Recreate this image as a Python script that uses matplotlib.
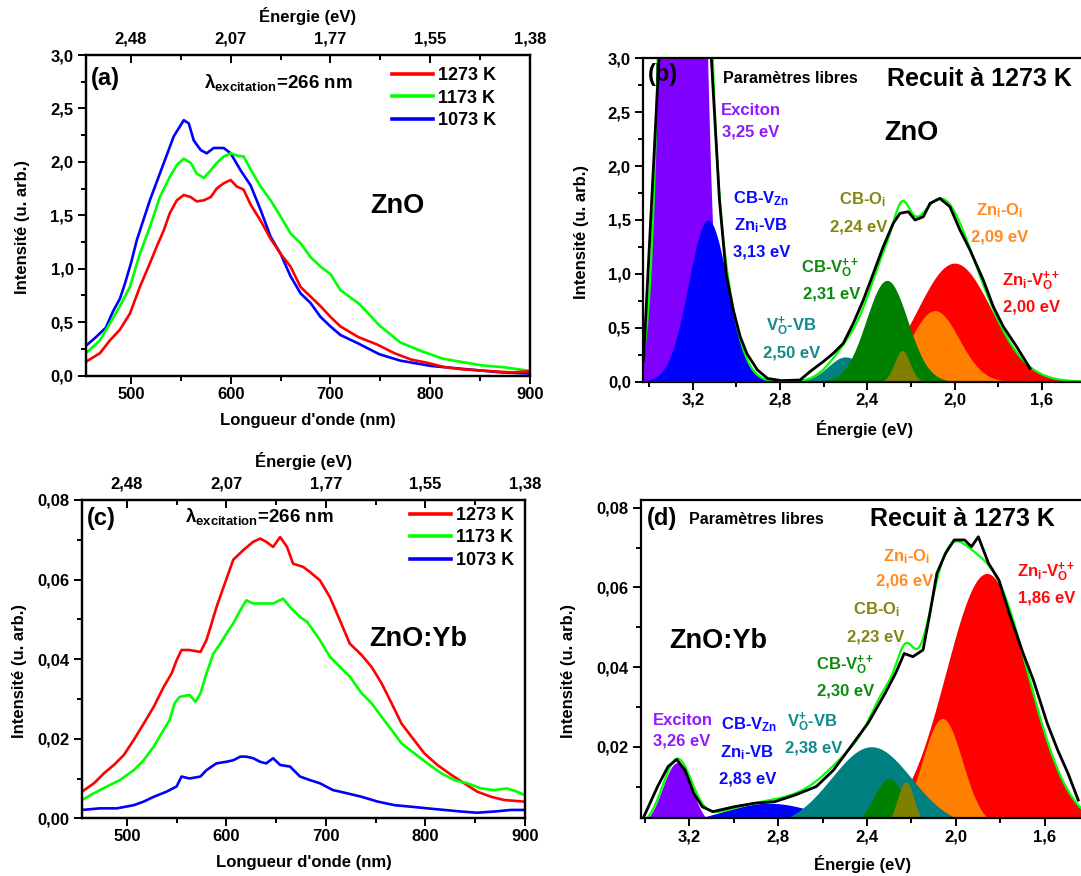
import numpy as np
import matplotlib.pyplot as plt
from matplotlib.ticker import MultipleLocator, FuncFormatter

plt.rcParams['font.family'] = ['Liberation Sans', 'DejaVu Sans']
plt.rcParams['font.weight'] = 'bold'
plt.rcParams['axes.labelweight'] = 'bold'
plt.rcParams['mathtext.fontset'] = 'custom'
plt.rcParams['mathtext.rm'] = 'Liberation Sans:bold'
plt.rcParams['mathtext.it'] = 'Liberation Sans:bold'
plt.rcParams['mathtext.bf'] = 'Liberation Sans:bold'

# ---------------- données (a) : ZnO, spectres PL ----------------
wl_a_1273 = [455, 469, 479, 489, 499, 509, 519, 526, 533, 539, 546, 553, 560, 566, 573, 580, 586, 593,
             600, 606, 613, 620, 630, 640, 650, 660, 670, 680, 690, 700, 710, 728, 747, 764, 781, 797,
             814, 831, 847, 864, 881, 899]
int_a_1273 = [0.13, 0.21, 0.33, 0.43, 0.58, 0.83, 1.05, 1.21, 1.36, 1.52, 1.64, 1.69, 1.67, 1.63, 1.64,
              1.67, 1.75, 1.80, 1.83, 1.77, 1.74, 1.60, 1.45, 1.28, 1.14, 1.02, 0.83, 0.74, 0.65, 0.55,
              0.46, 0.36, 0.29, 0.21, 0.15, 0.12, 0.08, 0.06, 0.05, 0.04, 0.03, 0.04]
wl_a_1173 = [455, 469, 479, 489, 499, 509, 519, 529, 539, 546, 553, 560, 566, 573, 580, 586, 593, 600,
             606, 613, 620, 630, 640, 650, 660, 670, 680, 690, 700, 710, 729, 749, 770, 791, 812, 833,
             853, 874, 898]
int_a_1173 = [0.21, 0.33, 0.49, 0.65, 0.83, 1.14, 1.39, 1.67, 1.86, 1.97, 2.03, 1.99, 1.89, 1.85, 1.92,
              1.99, 2.05, 2.08, 2.06, 2.05, 1.93, 1.77, 1.64, 1.49, 1.33, 1.24, 1.11, 1.02, 0.95, 0.80,
              0.67, 0.47, 0.31, 0.23, 0.16, 0.125, 0.094, 0.078, 0.047]
wl_a_1073 = [455, 465, 475, 482, 489, 494, 500, 506, 519, 533, 543, 553, 558, 563, 570, 576, 583, 593,
             600, 610, 620, 630, 640, 650, 660, 670, 680, 690, 700, 710, 728, 749, 770, 801, 836, 871, 898]
int_a_1073 = [0.28, 0.36, 0.45, 0.60, 0.72, 0.86, 1.05, 1.27, 1.64, 1.99, 2.24, 2.39, 2.36, 2.20, 2.11,
              2.08, 2.13, 2.13, 2.08, 1.92, 1.78, 1.55, 1.30, 1.14, 0.93, 0.77, 0.68, 0.55, 0.46, 0.38,
              0.30, 0.20, 0.14, 0.09, 0.06, 0.03, 0.02]

# ---------------- données (c) : ZnO:Yb, spectres PL ----------------
wl_c_1273 = [455, 467, 477, 487, 497, 507, 517, 527, 537, 545, 550, 555, 563, 574, 580, 584, 590, 597,
             607, 617, 627, 634, 640, 647, 654, 661, 667, 677, 684, 694, 704, 714, 724, 736, 746, 756,
             766, 776, 786, 799, 812, 826, 839, 852, 866, 879, 899]
int_c_1273 = [0.0067, 0.0088, 0.0113, 0.0134, 0.0159, 0.0197, 0.0238, 0.028, 0.033, 0.0364, 0.0397,
              0.0423, 0.0423, 0.0418, 0.0448, 0.048, 0.053, 0.058, 0.065, 0.0674, 0.0695, 0.0703,
              0.0695, 0.0682, 0.0707, 0.0682, 0.064, 0.0632, 0.0619, 0.0598, 0.0556, 0.0498, 0.0439,
              0.0410, 0.038, 0.0339, 0.0289, 0.0238, 0.0205, 0.0163, 0.0134, 0.0109, 0.0088, 0.0067,
              0.0054, 0.0046, 0.0042]
wl_c_1173 = [455, 467, 480, 493, 507, 517, 527, 537, 543, 548, 553, 563, 569, 574, 580, 587, 594, 600,
             607, 614, 620, 627, 634, 640, 647, 657, 664, 674, 681, 687, 694, 704, 714, 724, 736, 746,
             756, 766, 776, 789, 802, 816, 829, 842, 856, 869, 882, 892, 899]
int_c_1173 = [0.0046, 0.0063, 0.008, 0.0096, 0.0121, 0.0146, 0.018, 0.0222, 0.0247, 0.0289, 0.0305,
              0.031, 0.0293, 0.0314, 0.0364, 0.0414, 0.0439, 0.0464, 0.049, 0.0523, 0.0548, 0.054,
              0.054, 0.054, 0.054, 0.0552, 0.0531, 0.0506, 0.0494, 0.0473, 0.0448, 0.0406, 0.0381,
              0.0356, 0.0314, 0.0289, 0.0255, 0.0222, 0.0188, 0.0163, 0.0138, 0.0113, 0.0096, 0.0088,
              0.0075, 0.0071, 0.0075, 0.0067, 0.0059]
wl_c_1073 = [455, 473, 490, 507, 517, 527, 540, 550, 555, 563, 574, 580, 590, 600, 607, 614, 620, 627,
             634, 640, 647, 654, 664, 674, 684, 694, 707, 721, 736, 752, 769, 786, 802, 819, 836, 852,
             869, 886, 899]
int_c_1073 = [0.0021, 0.0025, 0.0025, 0.0033, 0.0042, 0.0054, 0.0067, 0.008, 0.0105, 0.010, 0.0105,
              0.0121, 0.0138, 0.0142, 0.0146, 0.0155, 0.0155, 0.0151, 0.0142, 0.0138, 0.0151, 0.0134,
              0.013, 0.0105, 0.0096, 0.0088, 0.0071, 0.0063, 0.0054, 0.0042, 0.0033, 0.0029, 0.0025,
              0.0021, 0.0017, 0.0014, 0.0017, 0.0021, 0.0021]

temperatures = ['1273 K', '1173 K', '1073 K']
wl_top_ticks = [500, 600, 700, 800, 900]
energy_top_labels = ['2,48', '2,07', '1,77', '1,55', '1,38']

# ---------------- données (b) : ZnO recuit 1273 K, décomposition ----------------
E_b_exp = [3.426, 3.355, 3.24, 3.115, 3.078, 3.047, 3.015, 2.983, 2.952, 2.904, 2.857, 2.794, 2.708,
           2.663, 2.602, 2.556, 2.51, 2.464, 2.418, 2.372, 2.327, 2.281, 2.25, 2.212, 2.181, 2.143,
           2.112, 2.067, 2.021, 1.975, 1.929, 1.868, 1.822, 1.776, 1.715, 1.654]
I_b_exp = [0.20, 3.0, 16.0, 3.0, 1.69, 1.0, 0.67, 0.42, 0.26, 0.11, 0.03, 0.01, 0.016, 0.093, 0.186,
           0.263, 0.356, 0.542, 0.758, 1.006, 1.252, 1.469, 1.562, 1.577, 1.50, 1.53, 1.655, 1.70,
           1.623, 1.407, 1.222, 0.943, 0.696, 0.51, 0.325, 0.124]
# ordre : Exciton, CB-VZn/Zni-VB, VO-VB, CB-VO++, CB-Oi, Zni-Oi, Zni-VO++
peak_center_b = [3.245, 3.13, 2.50, 2.31, 2.24, 2.09, 2.00]
peak_height_b = [16.0, 1.50, 0.23, 0.94, 0.29, 0.66, 1.10]
peak_sigma_b = [0.063, 0.09, 0.08, 0.095, 0.035, 0.11, 0.17]

# ---------------- données (d) : ZnO:Yb recuit 1273 K, décomposition ----------------
E_d_exp = [3.405, 3.343, 3.296, 3.257, 3.219, 3.18, 3.141, 3.094, 3.0, 2.908, 2.815, 2.722, 2.628,
           2.551, 2.473, 2.395, 2.318, 2.271, 2.232, 2.193, 2.147, 2.116, 2.085, 2.046, 2.007, 1.96,
           1.929, 1.898, 1.852, 1.805, 1.759, 1.696, 1.65, 1.588, 1.541, 1.494, 1.448]
I_d_exp = [0.0024, 0.010, 0.015, 0.0168, 0.0141, 0.0083, 0.0049, 0.0037, 0.0049, 0.0058, 0.0062,
           0.0079, 0.010, 0.0141, 0.020, 0.0259, 0.0334, 0.0384, 0.0434, 0.0426, 0.0443, 0.0535,
           0.0635, 0.0685, 0.0719, 0.0719, 0.0702, 0.0727, 0.066, 0.0618, 0.0535, 0.0434, 0.0367,
           0.0259, 0.0192, 0.0133, 0.0066]
peak_center_d = [3.255, 2.84, 2.38, 2.30, 2.225, 2.06, 1.86]
peak_height_d = [0.016, 0.0058, 0.020, 0.012, 0.0112, 0.0271, 0.0635]
peak_sigma_d = [0.065, 0.22, 0.18, 0.07, 0.038, 0.09, 0.185]

peak_colors = ['#8000FF', '#0000FF', '#008080', '#008000', '#808000', '#FF8000', '#FF0000']
draw_order = [6, 5, 0, 1, 2, 3, 4]

# ---------------- figure ----------------
W, H = 1081, 876
fig = plt.figure(figsize=(W / 100, H / 100), dpi=100)


def box(l, t, r, b):
    return [l / W, 1 - b / H, (r - l) / W, (b - t) / H]


def ftext(x, y, s, color='black', size=12, ha='center'):
    # y : centre visuel des majuscules, en pixels
    fig.text(x / W, 1 - (y + 0.36 * size * 100 / 72) / H, s, color=color, fontsize=size,
             fontweight='bold', ha=ha, va='baseline', zorder=10)


comma1 = FuncFormatter(lambda v, p: f'{v:.1f}'.replace('.', ','))
comma2 = FuncFormatter(lambda v, p: f'{v:.2f}'.replace('.', ','))


def style(ax):
    for s in ax.spines.values():
        s.set_linewidth(1.6)
    ax.tick_params(which='both', direction='out', width=1.4, labelsize=12)
    ax.tick_params(which='major', length=6)
    ax.tick_params(which='minor', length=3.5)
    ax.tick_params(axis='x', pad=2)
    ax.tick_params(axis='y', pad=3)


def spectrum(ax, curves, ymax, ystep, fmt, leg_xy, lab_y):
    lines = {}
    for wl, val, col, lab in curves:
        lines[lab], = ax.plot(wl, val, color=col, lw=1.9, label=lab)
    ax.set_xlim(455, 900)
    ax.set_ylim(0, ymax)
    ax.xaxis.set_major_locator(MultipleLocator(100))
    ax.xaxis.set_minor_locator(MultipleLocator(50))
    ax.yaxis.set_major_locator(MultipleLocator(ystep))
    ax.yaxis.set_minor_locator(MultipleLocator(ystep / 2))
    ax.yaxis.set_major_formatter(fmt)
    style(ax)
    ax.set_xlabel("Longueur d'onde (nm)", fontsize=12)
    ax.set_ylabel('Intensité (u. arb.)', fontsize=12)
    ax.xaxis.set_label_coords(0.5, lab_y[0])
    ax.yaxis.set_label_coords(lab_y[1], 0.464)
    top = ax.twiny()
    top.set_xlim(455, 900)
    top.set_xticks(wl_top_ticks)
    top.set_xticklabels(energy_top_labels)
    top.xaxis.set_minor_locator(MultipleLocator(50))
    top.tick_params(which='both', direction='in', width=1.4, labelsize=12, pad=6)
    top.tick_params(which='major', length=6)
    top.tick_params(which='minor', length=3.5)
    top.set_xlabel('Énergie (eV)', fontsize=12)
    top.xaxis.set_label_coords(0.5, lab_y[2])
    for s in top.spines.values():
        s.set_linewidth(1.6)
    leg = ax.legend([lines[t] for t in temperatures], temperatures, loc='upper left',
                    bbox_to_anchor=leg_xy, frameon=False, borderpad=0, borderaxespad=0,
                    handlelength=2.3, handletextpad=0.25, labelspacing=0.3,
                    prop={'weight': 'bold', 'size': 13})
    for h in leg.get_lines():
        h.set_linewidth(2.6)


def decomposition(ax, E_exp, I_exp, centers, heights, sigmas, xlim, ylim, yfmt, lab_xy):
    grid = np.linspace(3.5, 1.2, 900)
    total = np.zeros_like(grid)
    comps = []
    for c, a, s in zip(centers, heights, sigmas):
        g = a * np.exp(-(grid - c) ** 2 / (2 * s * s))
        comps.append(g)
        total += g
    for i in draw_order:
        ax.fill_between(grid, 0, comps[i], color=peak_colors[i], lw=0)
    ax.plot(grid, total, color='#00FF00', lw=1.6)
    ax.plot(E_exp, I_exp, color='black', lw=2.0)
    ax.set_xlim(*xlim)
    ax.set_ylim(*ylim)
    ax.xaxis.set_major_locator(MultipleLocator(0.4))
    ax.xaxis.set_minor_locator(MultipleLocator(0.2))
    ax.xaxis.set_major_formatter(comma1)
    ax.yaxis.set_major_formatter(yfmt)
    style(ax)
    ax.spines['right'].set_visible(False)
    ax.set_xlabel('Énergie (eV)', fontsize=12)
    ax.set_ylabel('Intensité (u. arb.)', fontsize=12)
    ax.xaxis.set_label_coords(lab_xy[0], lab_xy[1])
    ax.yaxis.set_label_coords(lab_xy[2], 0.464)


# (a)
ax_a = fig.add_axes(box(86, 55, 530, 375.6))
spectrum(ax_a, [(wl_a_1073, int_a_1073, '#0000FF', '1073 K'),
                (wl_a_1173, int_a_1173, '#00FF00', '1173 K'),
                (wl_a_1273, int_a_1273, '#FF0000', '1273 K')],
         3.0, 0.5, comma1, (0.689, 0.962), (-0.117, -0.126, 1.103))

# (c)
ax_c = fig.add_axes(box(82, 500, 525, 818.3))
spectrum(ax_c, [(wl_c_1073, int_c_1073, '#0000FF', '1073 K'),
                (wl_c_1273, int_c_1273, '#FF0000', '1273 K'),
                (wl_c_1173, int_c_1173, '#00FF00', '1173 K')],
         0.08, 0.02, comma2, (0.740, 0.978), (-0.115, -0.124, 1.105))

# (b)
ax_b = fig.add_axes(box(643.3, 58.3, 1110, 381.7))
decomposition(ax_b, E_b_exp, I_b_exp, peak_center_b, peak_height_b, peak_sigma_b,
              (3.427, 1.287), (0, 3.0), comma1, (0.475, -0.118, -0.116))
ax_b.yaxis.set_major_locator(MultipleLocator(0.5))
ax_b.yaxis.set_minor_locator(MultipleLocator(0.25))
ax_b.axhline(0, color='#0000FF', lw=2, zorder=3)
ax_b.tick_params(top=False)

# (d)
ax_d = fig.add_axes(box(641, 500, 1110, 818.3))
decomposition(ax_d, E_d_exp, I_d_exp, peak_center_d, peak_height_d, peak_sigma_d,
              (3.4176, 1.305), (0.00203, 0.08193), comma2, (0.472, -0.115, -0.139))
ax_d.yaxis.set_major_locator(MultipleLocator(0.02))
ax_d.yaxis.set_minor_locator(MultipleLocator(0.01))

# ---------------- textes ----------------
lam = r'$\lambda_{\mathrm{excitation}}$=266 nm'
ftext(90.7, 76, '(a)', size=17, ha='left')
fig.text(204 / W, 1 - 88 / H, lam, fontsize=13.5, fontweight='bold', ha='left', va='baseline')
ftext(397, 203, 'ZnO', size=19.5)

ftext(86.7, 516, '(c)', size=17, ha='left')
fig.text(185 / W, 1 - 521.7 / H, lam, fontsize=13.5, fontweight='bold', ha='left', va='baseline')
ftext(418, 636, 'ZnO:Yb', size=19.5)

ftext(648.3, 72, '(b)', size=17, ha='left')
ftext(722.7, 77.3, 'Paramètres libres', size=11.5, ha='left')
ftext(887.3, 76.7, 'Recuit à 1273 K', size=18, ha='left')
ftext(911.7, 130.7, 'ZnO', size=19.5)

ftext(647.3, 516, '(d)', size=17, ha='left')
ftext(689.3, 518.3, 'Paramètres libres', size=11.5, ha='left')
ftext(870, 516.7, 'Recuit à 1273 K', size=18, ha='left')
ftext(718.3, 638, 'ZnO:Yb', size=19.5)

txt_purple, txt_blue, txt_teal = '#8F1AFF', '#0A0AFF', '#108A8A'
txt_green, txt_olive, txt_orange, txt_red = '#0F8A0F', '#858510', '#FF8A1F', '#FF0A0A'

# étiquettes (b)
ftext(751, 109.3, 'Exciton', txt_purple)
ftext(751, 130.7, '3,25 eV', txt_purple)
ftext(760.8, 197.3, r'CB-V$_{Zn}$', txt_blue)
ftext(761, 224, r'Zn$_{i}$-VB', txt_blue)
ftext(761.5, 250.7, '3,13 eV', txt_blue)
ftext(862.2, 198, r'CB-O$_{i}$', txt_olive)
ftext(858.5, 225, '2,24 eV', txt_olive)
ftext(830.3, 266.5, r'CB-V$_{O}^{++}$', txt_green)
ftext(831.3, 292.5, '2,31 eV', txt_green)
ftext(791.2, 325, r'V$_{O}^{+}$-VB', txt_teal)
ftext(791.2, 351.5, '2,50 eV', txt_teal)
ftext(1000, 209, r'Zn$_{i}$-O$_{i}$', txt_orange)
ftext(999.5, 235, '2,09 eV', txt_orange)
ftext(1030.8, 279, r'Zn$_{i}$-V$_{O}^{++}$', txt_red)
ftext(1031.7, 305, '2,00 eV', txt_red)

# étiquettes (d)
ftext(683, 719.3, 'Exciton', txt_purple)
ftext(682, 739.3, '3,26 eV', txt_purple)
ftext(749, 723.3, r'CB-V$_{Zn}$', txt_blue)
ftext(747, 751.7, r'Zn$_{i}$-VB', txt_blue)
ftext(747.7, 777.7, '2,83 eV', txt_blue)
ftext(812.5, 720, r'V$_{O}^{+}$-VB', txt_teal)
ftext(813.3, 746.7, '2,38 eV', txt_teal)
ftext(844.7, 663.3, r'CB-V$_{O}^{++}$', txt_green)
ftext(845.8, 690, '2,30 eV', txt_green)
ftext(876.3, 608.3, r'CB-O$_{i}$', txt_olive)
ftext(876, 635, '2,23 eV', txt_olive)
ftext(906.5, 555, r'Zn$_{i}$-O$_{i}$', txt_orange)
ftext(905, 580, '2,06 eV', txt_orange)
ftext(1045.8, 570, r'Zn$_{i}$-V$_{O}^{++}$', txt_red)
ftext(1046.7, 596.7, '1,86 eV', txt_red)

fig.savefig('out.png', dpi=100)
